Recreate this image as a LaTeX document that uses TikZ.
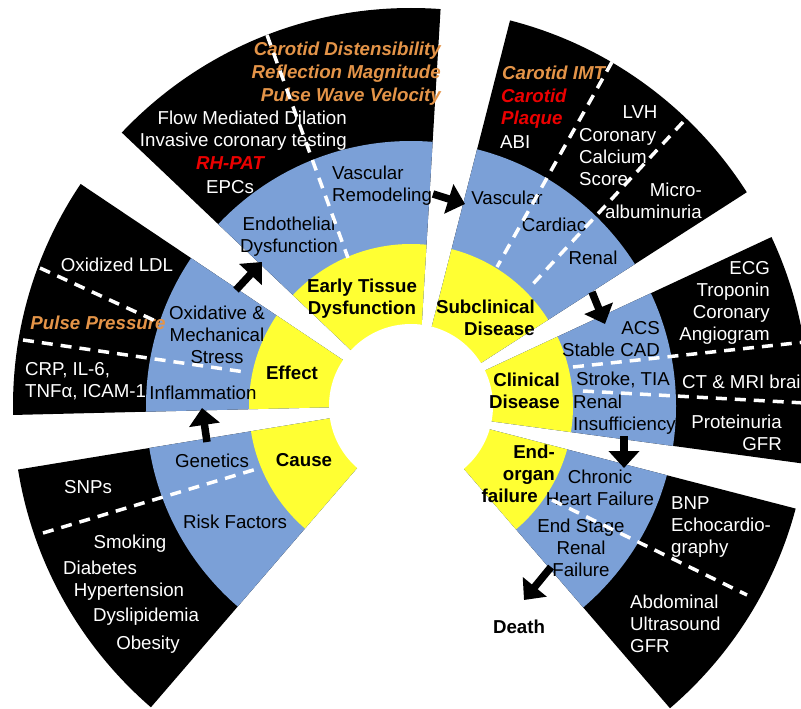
\documentclass[tikz,border=0pt]{standalone}
\usepackage{fontspec}
\setmainfont{Liberation Sans}
\usetikzlibrary{arrows.meta}

\definecolor{ringblue}{RGB}{123,160,215}
\definecolor{ringyellow}{RGB}{255,255,51}
\definecolor{markorange}{RGB}{228,148,72}
\definecolor{markred}{RGB}{235,0,0}

\tikzset{
  lbl/.style={inner sep=0pt, align=center, font=\fontsize{18.7}{22}\selectfont},
  wlbl/.style={lbl, text=white},
  stage/.style={lbl, font=\fontsize{18.7}{22}\selectfont\bfseries},
  orangelbl/.style={lbl, text=markorange, font=\fontsize{18.7}{23}\selectfont\bfseries\itshape},
  redlbl/.style={lbl, text=markred, font=\fontsize{18.7}{22}\selectfont\bfseries\itshape},
  sepline/.style={white, line width=3.5pt, dash pattern=on 11pt off 8pt},
  flow/.style={line width=7.5pt, -{Triangle[width=30pt,length=17pt]}},
}

\begin{document}
\begin{tikzpicture}[x=1pt, y=-1pt]
    \useasboundingbox (0,0) rectangle (801,709);
    \clip (0,0) rectangle (801,709);

    % Sectors: cause, effect, early tissue, subclinical, clinical, end-organ
    \begin{scope}[shift={(411,406)}]
      \foreach \ai/\ao/\bi/\bo in {-188.4/-189.2/-228.9/-229.2, -145.9/-146.1/-180.7/-181.3,
                                   -81/-85.8/-137.3/-136.6, -31.2/-32.5/-75.2/-75.6,
                                   11.9/8.3/-25.9/-25.1, 50.1/49.4/17.3/14.9} {
        \begin{scope}
          \clip (\ai:60) -- (\ao:430) -- ({(\ao+\bo)/2}:470) -- (\bo:430) -- (\bi:60) -- cycle;
          \fill[black] (0,0) circle (398pt);
          \fill[ringblue] (0,0) circle (265pt);
          \fill[ringyellow] (0,0) circle (162pt);
        \end{scope}
      }
      \fill[white] (0,0) circle (82pt);
    \end{scope}

    % Cause
    \node[stage] (Cause) at (304,460) {Cause};
    \node[lbl] (Genetics) at (212,461) {Genetics};
    \node[lbl] (Risk) at (235,522) {Risk Factors};
    \node[wlbl] (SNPs) at (88,487) {SNPs};
    \node[wlbl] (Smoking) at (130,544) {Smoking};
    \node[wlbl] (Diabetes) at (100,568) {Diabetes};
    \node[wlbl] (Hyper) at (129,592) {Hypertension};
    \node[wlbl] (Dysl) at (146,617) {Dyslipidemia};
    \node[wlbl] (Obesity) at (148,645) {Obesity};

    % Effect
    \node[stage] (Effect) at (292,373) {Effect};
    \node[lbl] (Oxid) at (217,335) {Oxidative \&\\Mechanical\\Stress};
    \node[lbl] (Inflam) at (203,393) {Inflammation};
    \node[wlbl] (OxLDL) at (117,265) {Oxidized LDL};
    \node[orangelbl] (PulseP) at (98,323) {Pulse Pressure};
    \node[wlbl, align=left, anchor=west] (CRP) at (25,381) {CRP, IL-6,\\TNFα, ICAM-1};

    % Early tissue dysfunction
    \node[stage] (ETD) at (362,299) {Early Tissue\\Dysfunction};
    \node[lbl] (Endo) at (289,237) {Endothelial\\Dysfunction};
    \node[lbl, align=left, anchor=west] (Remod) at (332,186) {Vascular\\Remodeling};
    \node[wlbl, align=right, anchor=east] (FMD) at (347,131) {Flow Mediated Dilation\\Invasive coronary testing};
    \node[redlbl] (RHPAT) at (230,163) {RH-PAT};
    \node[wlbl] (EPCs) at (230,187) {EPCs};
    \node[orangelbl, align=right, anchor=east] (Stiff) at (441,74) {Carotid Distensibility\\Reflection Magnitude\\Pulse Wave Velocity};

    % Subclinical disease
    \node[stage, align=right, anchor=east] (Subc) at (535,318) {Subclinical\\Disease};
    \node[lbl] (Vasc) at (507,198) {Vascular};
    \node[lbl] (Card) at (554,225) {Cardiac};
    \node[lbl] (RenalA) at (593,258) {Renal};
    \node[orangelbl, anchor=west] (IMT) at (502,73) {Carotid IMT};
    \node[redlbl, align=left, anchor=west] (Plaque) at (501,109) {Carotid\\Plaque};
    \node[wlbl, anchor=west] (ABI) at (500,142) {ABI};
    \node[wlbl] (LVH) at (640,112) {LVH};
    \node[wlbl, align=left, anchor=west] (CCS) at (579,157) {Coronary\\Calcium\\Score};
    \node[wlbl, align=right, anchor=east] (Micro) at (702,201) {Micro-\\albuminuria};

    % Clinical disease
    \node[stage, align=right, anchor=east] (Clin) at (560,391) {Clinical\\Disease};
    \node[lbl, align=right, anchor=east] (ACS) at (660,339) {ACS\\Stable CAD};
    \node[lbl] (Stroke) at (623,380) {Stroke, TIA};
    \node[lbl, align=left, anchor=west] (RenalB) at (573,415) {Renal\\Insufficiency};
    \node[wlbl, align=right, anchor=east] (ECG) at (770,303) {ECG\\Troponin\\Coronary\\Angiogram};
    \node[wlbl, anchor=west] (CTMRI) at (682,382) {CT \& MRI brain};
    \node[wlbl, align=right, anchor=east] (Prot) at (782,433) {Proteinuria\\GFR};

    % End-organ failure
    \node[stage, align=right, anchor=east] (EndOrg) at (555,474) {End-\\organ\\failure\hspace*{17pt}};
    \node[lbl] (CHF) at (600,488) {Chronic\\Heart Failure};
    \node[lbl] (ESRF) at (581,548) {End Stage\\Renal\\Failure};
    \node[wlbl, align=left, anchor=west] (BNP) at (671,527) {BNP\\Echocardio-\\graphy};
    \node[wlbl, align=left, anchor=west] (Abd) at (630,624) {Abdominal\\Ultrasound\\GFR};
    \node[stage] (Death) at (519,627) {Death};

    % Dashed dividers
    \draw[sepline] (43,533) -- (260,468);
    \draw[sepline] (40,268) -- (160,323);
    \draw[sepline] (23,340) -- (245,372);
    \draw[sepline] (267,35) -- (348,258);
    \draw[sepline] (612,62) -- (497,267);
    \draw[sepline] (683,122) -- (532,285);
    \draw[sepline] (573,367) -- (805,342);
    \draw[sepline] (583,391) -- (805,403);
    \draw[sepline] (552,500) -- (747,595);

    % Arrows
    \coordinate (CauseOut) at (207,442);
    \coordinate (EffectIn) at (202,408);
    \coordinate (EffectOut) at (236,290);
    \coordinate (ETDIn) at (262,262);
    \coordinate (ETDOut) at (433,194);
    \coordinate (SubcIn) at (465,204);
    \coordinate (SubcOut) at (592,292);
    \coordinate (ClinIn) at (605,324);
    \coordinate (ClinOut) at (624,436);
    \coordinate (EndIn) at (624,468);
    \coordinate (EndOut) at (551,567);
    \coordinate (DeathIn) at (524,600);
    \draw[flow] (CauseOut) -- (EffectIn);
    \draw[flow] (EffectOut) -- (ETDIn);
    \draw[flow] (ETDOut) -- (SubcIn);
    \draw[flow] (SubcOut) -- (ClinIn);
    \draw[flow] (ClinOut) -- (EndIn);
    \draw[flow] (EndOut) -- (DeathIn);
\end{tikzpicture}
\end{document}
